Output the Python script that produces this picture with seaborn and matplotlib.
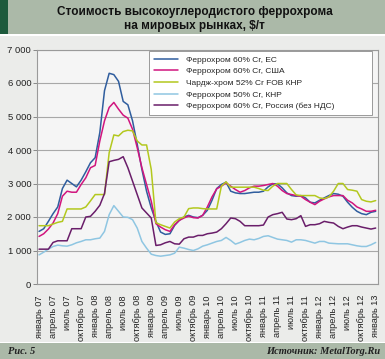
import numpy as np
import pandas as pd
import matplotlib
matplotlib.use("Agg")
import matplotlib.pyplot as plt
import seaborn as sns
from matplotlib.patches import Rectangle

# ---------------- data ----------------
months = ["январь", "апрель", "июль", "октябрь"]
years = ["07", "08", "09", "10", "11", "12", "13"]

series_names = [
    "Феррохром 60% Cr, ЕС",
    "Феррохром 60% Cr, США",
    "Чардж-хром 52% Cr FOB КНР",
    "Феррохром 50% Cr, КНР",
    "Феррохром 60% Cr, Россия (без НДС)",
]

fecr_eu = [1570, 1650, 1870, 2100, 2300, 2850, 3100, 3000, 2900, 3100, 3350, 3620, 3770,
           4520, 5770, 6290, 6250, 6050, 5450, 5350, 4870, 4170, 3420, 2770, 2270,
           1870, 1550, 1480, 1500, 1750, 1900, 2000, 2050, 2000, 1980, 2050, 2200,
           2500, 2850, 2970, 3040, 2770, 2720, 2700, 2700, 2720, 2740, 2740, 2770,
           2900, 2990, 2990, 2870, 2720, 2640, 2620, 2640, 2570, 2440, 2420, 2500,
           2570, 2640, 2700, 2680, 2620, 2440, 2290, 2170, 2100, 2070, 2140, 2170]

fecr_us = [1420, 1500, 1640, 1820, 2100, 2620, 2770, 2740, 2740, 2970, 3170, 3470, 3540,
           4270, 4870, 5270, 5420, 5220, 5040, 4950, 4620, 4070, 3470, 2970, 2470,
           1800, 1700, 1620, 1570, 1770, 1900, 1970, 2030, 1980, 1970, 2050, 2300,
           2600, 2840, 2920, 3020, 2920, 2820, 2740, 2790, 2870, 2920, 2920, 2940,
           2970, 3000, 2920, 2790, 2700, 2670, 2640, 2620, 2520, 2440, 2370, 2470,
           2540, 2600, 2640, 2640, 2640, 2500, 2420, 2300, 2240, 2170, 2170, 2200]

charge_fob_cn = [1740, 1740, 1740, 1790, 1840, 1870, 2240, 2240, 2240, 2240, 2300, 2480, 2670,
                 2670, 2670, 3920, 4450, 4420, 4550, 4590, 4570, 4270, 4150, 4150, 3420,
                 1830, 1770, 1720, 1670, 1850, 1950, 2000, 2250, 2270, 2270, 2250, 2240,
                 2240, 2240, 2920, 3050, 2890, 2890, 2890, 2890, 2890, 2890, 2850, 2800,
                 2790, 2920, 3000, 3000, 3000, 2820, 2660, 2640, 2640, 2640, 2640, 2570,
                 2550, 2600, 2770, 3000, 3000, 2820, 2800, 2770, 2520, 2470, 2450, 2490]

fecr50_cn = [870, 950, 1040, 1120, 1160, 1140, 1130, 1170, 1230, 1270, 1320, 1320, 1350,
             1370, 1570, 2070, 2340, 2170, 2000, 1990, 1920, 1670, 1270, 1070, 890,
             850, 830, 850, 870, 920, 1100, 1070, 1030, 1000, 1050, 1130, 1170,
             1220, 1270, 1300, 1390, 1300, 1190, 1240, 1300, 1340, 1320, 1360, 1420,
             1440, 1390, 1340, 1320, 1300, 1250, 1320, 1320, 1300, 1260, 1220, 1270,
             1270, 1220, 1210, 1200, 1200, 1200, 1170, 1140, 1120, 1120, 1170, 1240]

fecr_ru = [1040, 1040, 1040, 1240, 1290, 1290, 1290, 1650, 1650, 1650, 2000, 2020, 2170,
           2350, 2700, 3650, 3690, 3720, 3800, 3470, 3070, 2670, 2270, 2120, 1970,
           1150, 1170, 1230, 1270, 1200, 1190, 1350, 1400, 1400, 1450, 1450, 1500,
           1520, 1550, 1650, 1800, 1970, 1950, 1870, 1740, 1740, 1740, 1740, 1760,
           2000, 2070, 2100, 2140, 1940, 1920, 1950, 2040, 1720, 1770, 1770, 1800,
           1870, 1840, 1820, 1720, 1650, 1700, 1740, 1740, 1700, 1670, 1640, 1670]

y_ticks = [0, 1000, 2000, 3000, 4000, 5000, 6000, 7000]

# ---------------- frame ----------------
n = len(fecr_eu)
idx = np.arange(n)
df = pd.concat([
    pd.DataFrame({"m": idx, "v": vals, "s": name})
    for name, vals in zip(series_names, [fecr_eu, fecr_us, charge_fob_cn, fecr50_cn, fecr_ru])
])

palette = {
    series_names[0]: "#2f5d9e",
    series_names[1]: "#d1157e",
    series_names[2]: "#b3c81e",
    series_names[3]: "#8fc6e2",
    series_names[4]: "#6a1e6a",
}

sns.set_style("white")
plt.rcParams["font.family"] = ["Liberation Sans", "DejaVu Sans"]

W, H = 385, 359
fig = plt.figure(figsize=(W / 100, H / 100), dpi=100)
fig.patch.set_facecolor("#ebecea")

# header / footer bands
band = "#abb9a8"
fig.add_artist(Rectangle((0, 1 - 34 / H), 1, 34 / H, transform=fig.transFigure,
                         facecolor=band, edgecolor="none", zorder=0))
fig.add_artist(Rectangle((0, 1 - 34 / H), 8 / W, 34 / H, transform=fig.transFigure,
                         facecolor="#1d5a3c", edgecolor="none", zorder=1))
fig.add_artist(Rectangle((0, 1 - 35.5 / H), 1, 1.5 / H, transform=fig.transFigure,
                         facecolor="white", edgecolor="none", zorder=1))
fig.add_artist(Rectangle((0, 0), 1, 16 / H, transform=fig.transFigure,
                         facecolor=band, edgecolor="none", zorder=0))
fig.add_artist(Rectangle((0, 16 / H), 1, 1.5 / H, transform=fig.transFigure,
                         facecolor="white", edgecolor="none", zorder=1))

fig.text(0.505, 1 - 12 / H, "Стоимость высокоуглеродистого феррохрома",
         ha="center", va="center", fontsize=8.5, fontweight="bold", color="#111111")
fig.text(0.505, 1 - 26 / H, "на мировых рынках, $/т",
         ha="center", va="center", fontsize=8.5, fontweight="bold", color="#111111")
fig.text(8 / W, 8 / H, "Рис. 5", ha="left", va="center", fontsize=7.5,
         family=["Liberation Serif", "DejaVu Serif"], style="italic", fontweight="bold", color="#222222")
fig.text(380 / W, 8 / H, "Источник: MetalTorg.Ru", ha="right", va="center", fontsize=7.5,
         family=["Liberation Serif", "DejaVu Serif"], style="italic", fontweight="bold", color="#222222")

left, right = 36.7 / W, 378 / W
bottom, top = 1 - 284 / H, 1 - 49.5 / H
ax = fig.add_axes([left, bottom, right - left, top - bottom])
ax.set_facecolor("#f5f5f5")

sns.lineplot(data=df, x="m", y="v", hue="s", hue_order=series_names, palette=palette,
             linewidth=1.1, ax=ax, legend=True)

ax.set_xlim(-0.5, n - 0.5)
ax.set_ylim(0, 7000)
ax.set_xlabel("")
ax.set_ylabel("")

ax.set_yticks(y_ticks)
ax.set_yticklabels([f"{t:,}".replace(",", " ") for t in y_ticks])
ax.yaxis.grid(True, color="#a8a8a8", linewidth=0.8)
ax.set_axisbelow(True)

xt = list(range(0, n, 3))
xl = [f"{months[(i // 3) % 4]} {years[i // 12]}" for i in xt]
ax.set_xticks(xt)
ax.set_xticklabels(xl, rotation=90)
ax.set_xticks(np.arange(-0.5, n, 3), minor=True)
ax.tick_params(axis="x", which="major", length=0, pad=8, labelsize=6.6, colors="#222222")
ax.tick_params(axis="x", which="minor", length=3, width=0.7, color="#888888", direction="out")
ax.tick_params(axis="y", which="major", length=3, width=0.7, color="#888888", pad=1,
               labelsize=6.8, labelcolor="#222222", left=True)

for sp in ax.spines.values():
    sp.set_color("#9a9a9a")
    sp.set_linewidth(0.8)

leg = ax.legend(loc="upper left", bbox_to_anchor=((149 - 36.7) / 341.3, (284 - 51) / 234.5,
                                                  (372 - 149) / 341.3, 0.0),
                mode="expand", borderaxespad=0, fontsize=6, frameon=True, fancybox=False,
                framealpha=1, edgecolor="#9a9a9a", handlelength=2.9, handletextpad=1.0,
                labelspacing=0.45, borderpad=0.6)
leg.get_frame().set_linewidth(0.7)
for line in leg.get_lines():
    line.set_linewidth(1.1)

fig.savefig("out.png", dpi=100, facecolor=fig.get_facecolor())
